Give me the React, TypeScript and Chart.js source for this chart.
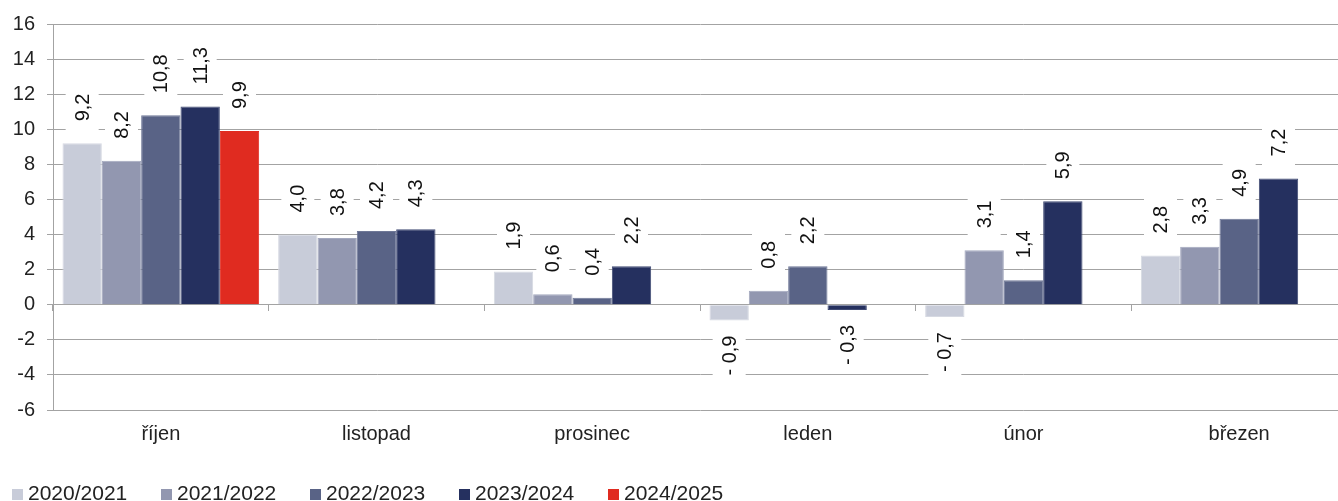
import React, { useEffect, useRef } from "react";
import { Chart, registerables } from "chart.js";

Chart.register(...registerables);

const categories = ["říjen", "listopad", "prosinec", "leden", "únor", "březen"];
const seriesNames = ["2020/2021", "2021/2022", "2022/2023", "2023/2024", "2024/2025"];
const seriesColors = ["#C8CCD9", "#9297B0", "#596386", "#25305F", "#E02B20"];
const seriesEdges = ["#D6D9E2", "#A3A8BE", "#6F7897", "#414B74", "#E02B20"];

const s2020: (number | null)[] = [9.2, 4.0, 1.9, -0.9, -0.7, 2.8];
const s2021: (number | null)[] = [8.2, 3.8, 0.6, 0.8, 3.1, 3.3];
const s2022: (number | null)[] = [10.8, 4.2, 0.4, 2.2, 1.4, 4.9];
const s2023: (number | null)[] = [11.3, 4.3, 2.2, -0.3, 5.9, 7.2];
const s2024: (number | null)[] = [9.9, null, null, null, null, null];

const seriesValues = [s2020, s2021, s2022, s2023, s2024];

const yMin = -6;
const yMax = 16;
const yStep = 2;

const FONT = "'Liberation Sans', Arial, Helvetica, sans-serif";
const GRID = "#A3A3A3";
const TEXT = "#222222";

function fmt(v: number): string {
  const s = Math.abs(v).toFixed(1).replace(".", ",");
  return v < 0 ? "- " + s : s;
}

const rotatedLabels = {
  id: "rotatedLabels",
  afterDatasetsDraw(chart: any) {
    const ctx = chart.ctx as CanvasRenderingContext2D;
    ctx.save();
    ctx.font = `20px ${FONT}`;
    chart.data.datasets.forEach((ds: any, di: number) => {
      const meta = chart.getDatasetMeta(di);
      meta.data.forEach((bar: any, i: number) => {
        const v = ds.data[i];
        if (v == null) return;
        const text = fmt(v);
        const w = ctx.measureText(text).width;
        const { x, y } = bar.getProps(["x", "y"], true);
        ctx.save();
        ctx.translate(x, y);
        ctx.rotate(-Math.PI / 2);
        const start = v >= 0 ? 22 : -15 - w;
        ctx.fillStyle = "#ffffff";
        ctx.fillRect(start - 9, -16.5, w + 18, 33);
        ctx.fillStyle = "#111111";
        ctx.textAlign = "left";
        ctx.textBaseline = "middle";
        ctx.fillText(text, start, 1);
        ctx.restore();
      });
    });
    ctx.restore();
  },
};

export default function App() {
  const ref = useRef<HTMLCanvasElement | null>(null);

  useEffect(() => {
    if (!ref.current) return;
    const chart = new Chart(ref.current, {
      type: "bar",
      data: {
        labels: categories,
        datasets: seriesNames.map((name, i) => ({
          label: name,
          data: seriesValues[i],
          backgroundColor: seriesColors[i],
          borderColor: seriesEdges[i],
          borderWidth: 1,
          categoryPercentage: 0.912,
          barPercentage: 1,
        })),
      },
      options: {
        responsive: false,
        animation: false,
        layout: { padding: { top: 22, left: 0, right: 0, bottom: 0 } },
        plugins: {
          legend: { display: false },
          tooltip: { enabled: false },
        },
        scales: {
          x: {
            type: "category",
            position: "bottom",
            offset: true,
            grid: { display: false },
            border: { display: false },
            ticks: { font: { family: FONT, size: 20 }, color: TEXT, padding: 4 },
            afterFit: (s: any) => {
              s.height = 91;
            },
          },
          x2: {
            type: "category",
            position: { y: 0 } as any,
            offset: true,
            grid: {
              display: true,
              drawOnChartArea: false,
              drawTicks: true,
              tickLength: 6,
              offset: true,
              color: GRID,
            },
            border: { display: true, color: GRID },
            ticks: { display: false },
          },
          y: {
            min: yMin,
            max: yMax,
            ticks: {
              stepSize: yStep,
              font: { family: FONT, size: 20 },
              color: TEXT,
              padding: 12,
              callback: (v: any) => String(v),
            },
            grid: { color: GRID, tickLength: 6, lineWidth: 1 },
            border: { display: true, color: GRID },
            afterFit: (s: any) => {
              s.width = 53;
            },
          },
        },
      },
      plugins: [rotatedLabels],
    });
    return () => chart.destroy();
  }, []);

  return (
    <div
      style={{
        position: "absolute",
        left: 0,
        top: 0,
        width: 1338,
        height: 501,
        overflow: "hidden",
        background: "#fff",
      }}
    >
      <canvas ref={ref} width={1347} height={501} style={{ display: "block" }} />
      <div
        style={{
          position: "absolute",
          left: 12,
          top: 482,
          display: "flex",
          fontFamily: FONT,
          fontSize: 21,
          lineHeight: "21px",
          color: TEXT,
          whiteSpace: "nowrap",
        }}
      >
        {seriesNames.map((name, i) => (
          <div key={name} style={{ display: "flex", alignItems: "flex-start", width: 149 }}>
            <span
              style={{
                display: "inline-block",
                width: 11,
                height: 11,
                marginTop: 7,
                marginRight: 5,
                background: seriesColors[i],
              }}
            />
            <span>{name}</span>
          </div>
        ))}
      </div>
    </div>
  );
}
